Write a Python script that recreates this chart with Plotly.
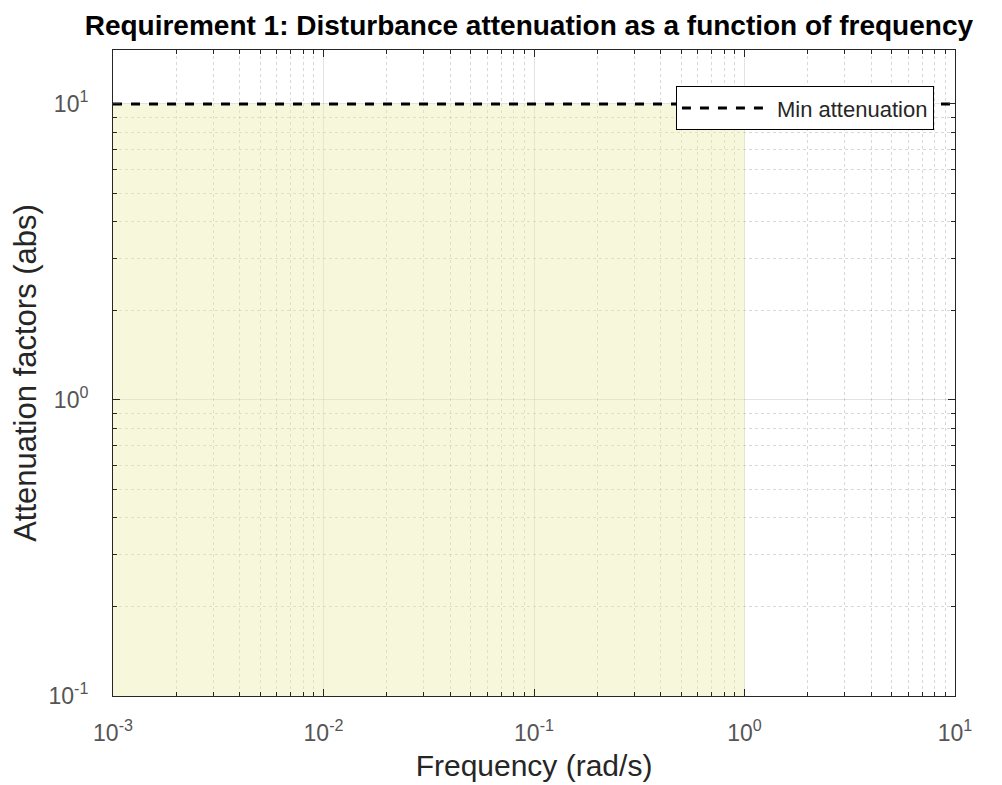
import plotly.graph_objects as go

# Data
band_freq = [1e-3, 1.0]          # shaded requirement band (frequency)
band_atten = [0.1, 10.0]         # shaded requirement band (attenuation)
line_freq = [1e-3, 10.0]
line_atten = [10.0, 10.0]        # Min attenuation level
x_tickvals = [1e-3, 1e-2, 1e-1, 1e0, 1e1]
x_ticktext = ["10<sup>-3</sup>", "10<sup>-2</sup>", "10<sup>-1</sup>", "10<sup>0</sup>", "10<sup>1</sup>"]
y_tickvals = [1e-1, 1e0, 1e1]
y_ticktext = ["10<sup>-1</sup>", "10<sup>0</sup>", "10<sup>1</sup>"]

x_minor = [m * d for d in [1e-3, 1e-2, 1e-1, 1e0] for m in range(2, 10)]
y_minor = [m * d for d in [1e-1, 1e0] for m in range(2, 10)]

FONT = "Liberation Sans, Arial, Helvetica"

fig = go.Figure()

fig.add_trace(go.Scatter(
    x=[band_freq[0], band_freq[1], band_freq[1], band_freq[0], band_freq[0]],
    y=[band_atten[0], band_atten[0], band_atten[1], band_atten[1], band_atten[0]],
    mode="lines", fill="toself", fillcolor="rgba(236,236,170,0.42)",
    line=dict(width=0), hoverinfo="skip", showlegend=False,
))

fig.add_trace(go.Scatter(
    x=line_freq, y=line_atten, mode="lines", name="Min attenuation",
    line=dict(color="black", width=3, dash="dash"),
))


def axis_common(minor_vals):
    return dict(
        type="log", showline=True, linecolor="#262626", linewidth=1, mirror="ticks",
        ticks="inside", ticklen=7, tickcolor="#262626",
        showgrid=True, gridcolor="rgba(38,38,38,0.13)", gridwidth=1,
        minor=dict(tickvals=minor_vals, ticks="inside", ticklen=4, tickcolor="#262626",
                   showgrid=True, gridcolor="rgba(38,38,38,0.18)", griddash="dot", gridwidth=1),
        tickfont=dict(family=FONT, size=23, color="#555555"),
        zeroline=False, automargin=False,
    )


fig.update_xaxes(
    **axis_common(x_minor),
    range=[-3, 1],
    tickvals=x_tickvals, ticktext=x_ticktext, ticklabelstandoff=16,
    title=dict(text="Frequency (rad/s)", font=dict(family=FONT, size=30, color="#262626"), standoff=10),
)
fig.update_yaxes(
    **axis_common(y_minor),
    range=[-1, 1.182],
    tickvals=y_tickvals, ticktext=y_ticktext, ticklabelstandoff=19,
    title=dict(text="Attenuation factors (abs)", font=dict(family=FONT, size=31, color="#262626"), standoff=6),
)

fig.update_layout(
    width=994, height=777,
    margin=dict(l=105, r=47, t=42, b=89),
    paper_bgcolor="white", plot_bgcolor="white",
    title=dict(text="<b>Requirement 1: Disturbance attenuation as a function of frequency</b>",
               font=dict(family=FONT, size=28, color="black"),
               x=0.524, xanchor="center", y=0.99, yanchor="top"),
    legend=dict(x=0.975, y=0.944, xanchor="right", yanchor="top",
                bgcolor="white", bordercolor="black", borderwidth=1,
                font=dict(family=FONT, size=22, color="#262626"),
                itemwidth=90, tracegroupgap=0),
    showlegend=True,
)

fig.write_html("out.html")
